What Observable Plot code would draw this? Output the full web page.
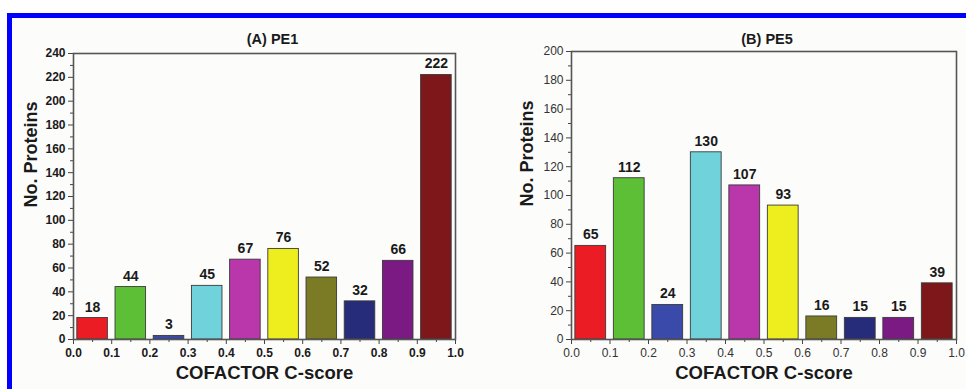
<!DOCTYPE html>
<html>
<head>
<meta charset="utf-8">
<script src="https://cdn.jsdelivr.net/npm/d3@7"></script>
<script src="https://cdn.jsdelivr.net/npm/@observablehq/plot@0.6"></script>
<style>
  html, body { margin: 0; padding: 0; background: #ffffff; }
  #wrap { position: relative; width: 966px; height: 389px; overflow: hidden; background: #ffffff; font-family: "Liberation Sans", Arial, sans-serif; }
  #bandTop { position: absolute; left: 7px; top: 13px; width: 959px; height: 5px; background: #0000ff; }
  #bandLeft { position: absolute; left: 7px; top: 13px; width: 5px; height: 376px; background: #0000ff; }
  #inner { position: absolute; left: 12px; top: 18px; width: 954px; height: 371px; background: #fcfcfb; }
  #panelA { position: absolute; left: 12px; top: 18px; }
  #panelB { position: absolute; left: 480px; top: 18px; }
</style>
</head>
<body>
<div id="wrap">
  <div id="inner"></div>
  <div id="bandTop"></div>
  <div id="bandLeft"></div>
  <div id="panelA"></div>
  <div id="panelB"></div>
</div>
<script>
// ---- data ----
const binStarts = [0.0, 0.1, 0.2, 0.3, 0.4, 0.5, 0.6, 0.7, 0.8, 0.9];
const pe1Counts = [18, 44, 3, 45, 67, 76, 52, 32, 66, 222];
const pe5Counts = [65, 112, 24, 130, 107, 93, 16, 15, 15, 39];
const barColors = ["#ec1c24", "#5cbf36", "#3a4aab", "#70d2da", "#b936ab", "#eeee1e", "#7b7b26", "#262c79", "#7b1a83", "#7d171a"];
const xTickValues = [0.0, 0.1, 0.2, 0.3, 0.4, 0.5, 0.6, 0.7, 0.8, 0.9, 1.0];
const xMinorTicks = [0.05, 0.15, 0.25, 0.35, 0.45, 0.55, 0.65, 0.75, 0.85, 0.95];
const yTicksA = [0, 20, 40, 60, 80, 100, 120, 140, 160, 180, 200, 220, 240];
const yMinorA = [10, 30, 50, 70, 90, 110, 130, 150, 170, 190, 210, 230];
const yTicksB = [0, 20, 40, 60, 80, 100, 120, 140, 160, 180, 200];
const yMinorB = [10, 30, 50, 70, 90, 110, 130, 150, 170, 190];
const titleA = "(A) PE1";
const titleB = "(B) PE5";
const xTitle = "COFACTOR C-score";
const yTitle = "No. Proteins";

function makeRows(counts) {
  return binStarts.map((s, i) => ({ start: s, value: counts[i], color: barColors[i] }));
}

function panel(cfg) {
  const rows = makeRows(cfg.counts);
  const font = "Liberation Sans, Arial, sans-serif";
  return Plot.plot({
    width: cfg.width,
    height: 371,
    marginLeft: cfg.ml,
    marginRight: cfg.mr,
    marginTop: cfg.mt,
    marginBottom: 50,
    style: { fontFamily: font, background: "transparent", overflow: "visible", color: "#222" },
    x: { domain: [0, 1] },
    y: { domain: [0, cfg.ymax] },
    color: { type: "identity" },
    marks: [
      Plot.rectY(rows, {
        x1: d => d.start + 0.01,
        x2: d => d.start + 0.09,
        y1: 0,
        y2: "value",
        fill: "color",
        stroke: "#3a3a3a",
        strokeWidth: 0.9
      }),
      Plot.text(rows, {
        x: d => d.start + 0.05,
        y: "value",
        text: d => String(d.value),
        dy: -11,
        fontSize: 14,
        fontWeight: "bold",
        fill: "#1a1a1a"
      }),
      Plot.axisY({
        ticks: cfg.yTicks, tickSize: 5, tickPadding: 3, label: null,
        fontSize: 12, fontWeight: cfg.tickWeight, fill: cfg.tickColor, stroke: "#444"
      }),
      Plot.axisY({ ticks: cfg.yMinor, tickSize: 3, text: null, label: null, stroke: "#444" }),
      Plot.axisX({
        ticks: xTickValues, tickFormat: d3.format(".1f"), tickSize: 5, tickPadding: 4, label: null,
        fontSize: 12, fontWeight: cfg.tickWeight, fill: cfg.tickColor, stroke: "#444"
      }),
      Plot.axisX({ ticks: xMinorTicks, tickSize: 3, text: null, label: null, stroke: "#444" }),
      Plot.frame({ stroke: "#555", strokeWidth: 1.6 }),
      Plot.text([cfg.title], {
        frameAnchor: "top", dy: cfg.titleDy, dx: cfg.titleDx,
        fontSize: 14.5, fontWeight: "bold", fill: "#1a1a1a"
      }),
      Plot.text([xTitle], {
        frameAnchor: "bottom", dy: 39,
        fontSize: 18.5, fontWeight: "bold", fill: "#1a1a1a"
      }),
      Plot.text([yTitle], {
        frameAnchor: "left", dx: cfg.ylabDx, dy: 11, rotate: -90,
        fontSize: 18, fontWeight: "bold", fill: "#1a1a1a"
      })
    ]
  });
}

document.getElementById("panelA").appendChild(panel({
  counts: pe1Counts, width: 468, ml: 61, mr: 25, mt: 35, ymax: 240,
  yTicks: yTicksA, yMinor: yMinorA, tickWeight: "bold", tickColor: "#1a1a1a",
  title: titleA, titleDx: 8, titleDy: -20, ylabDx: -42
}));
document.getElementById("panelB").appendChild(panel({
  counts: pe5Counts, width: 486, ml: 91, mr: 10, mt: 33, ymax: 200,
  yTicks: yTicksB, yMinor: yMinorB, tickWeight: "normal", tickColor: "#333",
  title: titleB, titleDx: 3, titleDy: -18, ylabDx: -44
}));
</script>
</body>
</html>
